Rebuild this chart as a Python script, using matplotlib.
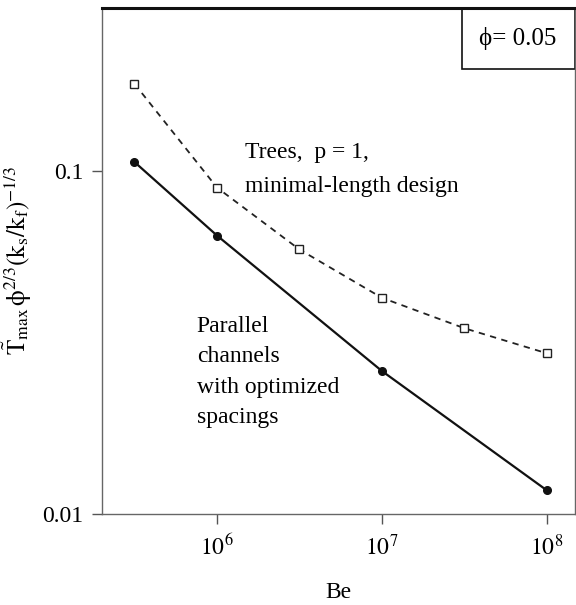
import matplotlib
matplotlib.use("Agg")
import matplotlib.pyplot as plt
from matplotlib.patches import Rectangle

plt.rcParams["font.family"] = ["Liberation Serif", "DejaVu Serif"]
plt.rcParams["mathtext.fontset"] = "stix"

# parallel channels with optimized spacings
be_channels = [3.16e5, 1e6, 1e7, 1e8]
t_channels = [0.1064, 0.0649, 0.0261, 0.0117]

# trees, p = 1, minimal-length design
be_trees = [3.16e5, 1e6, 3.16e6, 1e7, 3.16e7, 1e8]
t_trees = [0.180, 0.0896, 0.0591, 0.0427, 0.0348, 0.0294]

x_ticks = [1e6, 1e7, 1e8]
x_labels = [r"$10^6$", r"$10^7$", r"$10^8$"]
y_ticks = [0.01, 0.1]
y_labels = ["0.01", "0.1"]

fig = plt.figure(figsize=(5.76, 6.05), dpi=100)
ax = fig.add_axes([0.1766, 0.151, 0.8214, 0.836])

ax.plot(be_trees, t_trees, ls=(0, (3.5, 3)), color="#222222", lw=1.3,
        marker="s", ms=6, mfc="white", mec="#222222", mew=1.0)
ax.plot(be_channels, t_channels, ls="-", color="#111111", lw=1.6,
        marker="o", ms=5.5, mfc="#111111", mec="#111111")

ax.set_xscale("log")
ax.set_yscale("log")
ax.set_xlim(2e5, 1.48e8)
ax.set_ylim(0.01, 0.3)
ax.minorticks_off()
ax.set_xticks(x_ticks, x_labels)
ax.set_yticks(y_ticks, y_labels)
ax.tick_params(direction="out", length=7, width=1.0, color="#555555",
               labelsize=17, pad=6)
ax.tick_params(axis="x", pad=8)

for side in ("left", "bottom", "right"):
    ax.spines[side].set_color("#666666")
    ax.spines[side].set_linewidth(1.0)
ax.spines["top"].set_color("#111111")
ax.spines["top"].set_linewidth(2.2)

ax.set_xlabel("Be", fontsize=17, labelpad=16)
ax.set_ylabel(r"$\tilde{\mathrm{T}}_{\mathrm{max}}\,\mathrm{\phi}^{2/3}(\mathrm{k}_{\mathrm{s}}/\mathrm{k}_{\mathrm{f}})^{-1/3}$",
              fontsize=18, labelpad=6)

ax.text(0.303, 0.715, "Trees,  p = 1,", transform=ax.transAxes, fontsize=17,
        va="center", ha="left")
ax.text(0.303, 0.646, "minimal-length design", transform=ax.transAxes, fontsize=17,
        va="center", ha="left")
ax.text(0.201, 0.28, "Parallel\nchannels\nwith optimized\nspacings", transform=ax.transAxes,
        fontsize=17, va="center", ha="left", linespacing=1.6)

ax.add_patch(Rectangle((0.7606, 0.880), 0.2394, 0.12, transform=ax.transAxes,
                       fill=False, ec="#111111", lw=1.2, clip_on=False))
ax.text(0.88, 0.94, "ϕ= 0.05", transform=ax.transAxes, fontsize=18,
        ha="center", va="center")

fig.savefig("out.png", dpi=100)
